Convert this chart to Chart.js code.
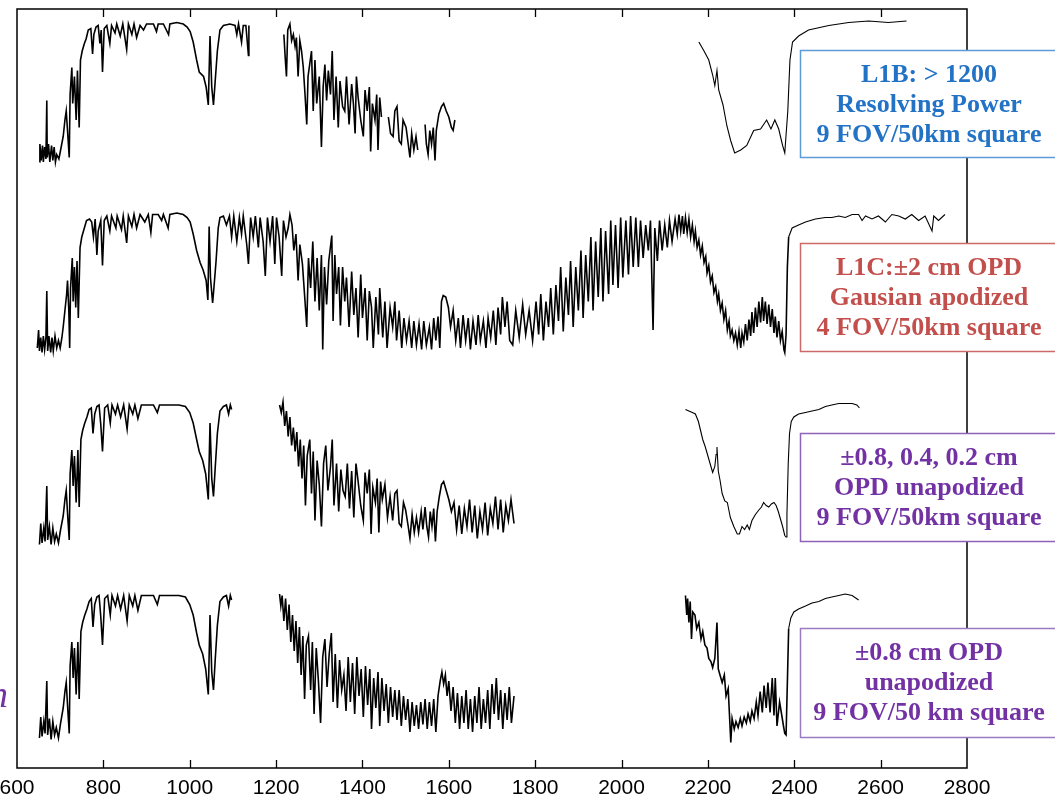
<!DOCTYPE html>
<html>
<head>
<meta charset="utf-8">
<script src="https://cdn.jsdelivr.net/npm/chart.js@4"></script>
<style>
  body { margin: 0; background: #fff; }
  #wrap { width: 1055px; height: 799px; position: relative; }
</style>
</head>
<body>
<div id="wrap"><canvas id="spectra"></canvas></div>
<script>
// wavenumber (cm-1) ticks
const xTicks = [600, 800, 1000, 1200, 1400, 1600, 1800, 2000, 2200, 2400, 2600, 2800];

// brightness temperature (K), [wavenumber, value]; null = gap
const l1b = [
  [652,197],[653,209],[656,198],[659,208],[661,197],[664,207],[667,199],[669,238],[670,200],[673,209],
  [676,197],[680,208],[683,198],[686,207],[689,197],[692,202],[697,199],[701,205],[707,214],[711,225],
  [714,231],[717,218],[721,200],[723,242],[727,260],[729,236],[733,254],[737,225],[740,258],[744,220],
  [747,265],[751,271],[756,276],[760,279],[765,285],[771,286],[775,269],[778,282],[783,287],[788,288],
  [792,276],[795,285],[798,257],[802,286],[808,288],[815,276],[819,288],[827,283],[831,289],[839,281],
  [845,289],[854,272],[858,289],[866,282],[871,289],[877,280],[885,288],[893,285],[900,289],[916,289],
  [923,284],[927,289],[939,289],[951,282],[954,289],[970,290],[985,289],[994,287],[1001,284],[1008,277],
  [1016,265],[1022,257],[1032,254],[1038,247],[1043,235],[1047,281],[1051,247],[1055,235],[1059,251],[1064,271],
  [1070,285],[1078,288],[1093,289],[1105,288],[1109,282],[1113,289],[1120,277],[1124,288],[1130,288],[1136,268],
  [1137,288],[1180,null],
  [1218,282],[1221,267],[1224,254],[1227,285],[1232,289],[1236,278],[1240,282],[1244,274],[1247,280],[1251,254],
  [1255,278],[1259,271],[1263,260],[1267,242],[1271,222],[1274,254],[1282,271],[1286,231],[1290,265],[1294,236],
  [1300,254],[1305,207],[1309,247],[1313,262],[1317,238],[1321,258],[1326,242],[1330,271],[1334,225],[1339,254],
  [1344,220],[1348,251],[1354,234],[1359,231],[1363,254],[1369,222],[1375,249],[1379,236],[1383,216],[1386,254],
  [1390,240],[1396,225],[1402,214],[1406,245],[1411,231],[1416,247],[1419,204],[1423,236],[1429,225],[1433,242],
  [1436,205],[1440,240],[1444,227],[1452,null],[1460,227],[1465,216],[1471,214],[1475,231],[1480,234],[1485,211],
  [1490,209],[1494,225],[1501,220],[1506,209],[1510,200],[1514,216],[1519,205],[1524,214],[1528,205],[1536,null],
  [1545,222],[1548,209],[1552,202],[1556,218],[1560,209],[1564,220],[1568,198],[1571,218],[1577,229],[1583,234],
  [1588,236],[1594,231],[1600,227],[1606,220],[1610,218],[1614,225],[1900,null],
  [2179,277],[2191,271],[2202,265],[2211,255],[2216,248],[2221,258],[2225,245],[2235,235],[2244,221],[2253,211],
  [2262,203],[2276,205],[2290,208],[2306,218],[2322,219],[2336,225],[2346,219],[2355,225],[2364,219],[2373,208],
  [2378,203],[2385,231],[2390,265],[2396,277],[2410,281],[2433,285],[2480,288],[2526,290],[2572,291],[2618,290],
  [2660,291]
];

const l1c = [
  [647,200],[650,212],[652,198],[655,207],[658,197],[661,208],[664,199],[667,207],[669,238],[671,198],
  [674,208],[678,197],[681,207],[684,198],[688,208],[692,200],[696,205],[700,200],[704,207],[707,214],
  [711,225],[715,236],[717,245],[720,225],[722,200],[724,240],[728,260],[730,231],[733,254],[736,227],
  [739,258],[742,220],[746,267],[750,274],[754,278],[758,282],[761,285],[768,286],[773,284],[777,274],
  [781,286],[785,262],[788,278],[794,285],[798,255],[802,285],[808,288],[815,278],[819,288],[829,280],
  [832,288],[842,279],[846,288],[854,270],[858,288],[866,281],[871,289],[877,280],[885,289],[896,284],
  [904,289],[910,277],[914,289],[927,289],[935,285],[939,289],[950,280],[954,289],[970,290],[985,289],
  [994,287],[1001,284],[1008,276],[1016,265],[1024,257],[1031,252],[1038,245],[1042,232],[1045,281],[1048,247],
  [1053,230],[1056,240],[1061,258],[1066,280],[1070,287],[1078,288],[1085,282],[1092,288],[1097,274],[1102,288],
  [1109,271],[1115,287],[1120,276],[1124,288],[1132,269],[1136,256],[1141,287],[1147,274],[1152,288],[1159,267],
  [1163,287],[1170,271],[1175,248],[1180,287],[1186,271],[1192,288],[1197,256],[1201,287],[1207,274],[1213,248],
  [1217,285],[1223,274],[1228,280],[1232,289],[1237,282],[1241,265],[1246,276],[1251,245],[1255,269],[1261,256],
  [1267,231],[1271,214],[1275,260],[1280,240],[1285,271],[1290,231],[1295,260],[1300,225],[1305,262],[1308,199],
  [1312,254],[1317,229],[1322,258],[1329,275],[1332,218],[1336,262],[1340,236],[1345,254],[1349,215],[1354,254],
  [1359,231],[1363,247],[1369,214],[1375,251],[1380,222],[1385,240],[1390,207],[1396,249],[1400,220],[1406,240],
  [1411,205],[1416,238],[1421,227],[1425,200],[1431,234],[1437,209],[1440,240],[1447,207],[1452,231],[1457,200],
  [1464,227],[1470,214],[1475,231],[1479,205],[1485,225],[1491,200],[1496,220],[1502,205],[1508,218],[1514,200],
  [1519,218],[1525,202],[1531,216],[1537,199],[1542,218],[1548,202],[1555,214],[1560,199],[1565,220],[1570,205],
  [1575,221],[1579,200],[1583,231],[1587,235],[1593,234],[1599,227],[1604,214],[1610,225],[1616,205],[1622,220],
  [1627,200],[1633,222],[1639,205],[1645,220],[1650,199],[1656,218],[1663,202],[1668,222],[1673,205],[1680,218],
  [1686,200],[1691,220],[1697,207],[1703,225],[1709,202],[1714,227],[1720,209],[1724,234],[1730,214],[1735,231],
  [1741,205],[1748,202],[1755,225],[1763,207],[1771,229],[1778,209],[1786,225],[1794,205],[1802,231],[1808,209],
  [1813,236],[1819,205],[1825,231],[1831,214],[1836,240],[1842,209],[1848,242],[1854,218],[1859,254],[1865,211],
  [1871,247],[1877,222],[1882,258],[1888,214],[1894,254],[1900,225],[1906,265],[1911,220],[1917,262],[1923,231],
  [1929,274],[1934,225],[1940,271],[1946,234],[1952,280],[1957,231],[1963,278],[1970,236],[1975,285],[1980,242],
  [1986,282],[1992,240],[1998,287],[2003,247],[2010,285],[2016,249],[2021,288],[2027,254],[2033,287],[2039,254],
  [2044,285],[2050,260],[2056,282],[2062,265],[2067,285],[2073,212],[2077,280],[2083,258],[2088,285],[2094,265],
  [2100,282],[2106,267],[2111,285],[2117,271],[2124,286],[2129,276],[2133,289],[2137,278],[2141,288],[2144,276],
  [2148,287],[2152,277],[2156,286],[2160,274],[2164,282],[2168,271],[2171,278],[2175,267],[2179,272],[2183,262],
  [2187,268],[2191,257],[2195,261],[2198,250],[2202,255],[2206,244],[2210,248],[2214,237],[2218,241],[2222,231],
  [2225,236],[2229,225],[2233,230],[2237,219],[2241,225],[2245,212],[2249,218],[2252,208],[2256,212],[2260,205],
  [2264,210],[2268,202],[2272,211],[2276,200],[2279,210],[2283,204],[2287,216],[2291,205],[2295,219],[2299,208],
  [2302,224],[2306,210],[2310,227],[2314,214],[2318,231],[2322,217],[2326,234],[2329,218],[2333,231],[2337,216],
  [2341,229],[2345,214],[2349,226],[2353,210],[2356,221],[2360,207],[2364,218],[2368,205],[2372,211],[2376,199],
  [2378,197],[2381,209],[2384,254],[2387,274],[2395,280],[2410,282],[2426,284],[2449,286],[2472,287],[2487,287],
  [2503,288],[2518,287],[2534,289],[2549,289],[2557,285],[2565,288],[2580,286],[2595,288],[2611,284],[2626,289],
  [2642,288],[2657,286],[2672,289],[2688,285],[2703,288],[2719,278],[2723,288],[2734,285],[2749,289]
];

const unapod3 = [
  [652,196],[655,210],[658,197],[662,207],[665,198],[669,235],[671,199],[675,208],[679,196],[683,207],
  [687,198],[691,203],[696,197],[701,206],[707,215],[711,226],[714,232],[717,217],[721,199],[723,243],
  [727,259],[730,235],[733,255],[737,224],[741,259],[744,221],[748,266],[752,272],[757,277],[762,281],
  [767,286],[772,287],[776,270],[780,283],[785,288],[790,289],[794,276],[798,258],[803,287],[810,289],
  [816,277],[820,289],[828,283],[833,289],[840,281],[847,289],[855,273],[860,289],[868,283],[873,289],
  [880,280],[888,289],[900,289],[916,289],[925,284],[930,289],[945,289],[960,289],[975,289],[990,288],
  [1000,284],[1008,277],[1016,266],[1022,258],[1030,252],[1037,243],[1043,226],[1047,277],[1051,240],[1055,228],
  [1059,247],[1064,270],[1070,285],[1078,288],[1085,289],[1090,283],[1094,289],[1097,286],[1150,null],
  [1208,289],[1212,284],[1216,291],[1220,275],[1224,285],[1228,268],[1232,281],[1236,262],[1240,274],[1244,258],
  [1248,271],[1252,248],[1256,266],[1260,240],[1264,262],[1268,222],[1272,255],[1278,266],[1282,230],[1286,258],
  [1290,212],[1295,252],[1300,236],[1305,208],[1310,250],[1315,262],[1320,232],[1326,248],[1330,266],[1334,222],
  [1340,250],[1345,218],[1350,246],[1355,232],[1360,228],[1365,250],[1370,220],[1375,245],[1380,214],[1385,250],
  [1390,238],[1396,222],[1402,212],[1406,244],[1411,230],[1416,246],[1420,203],[1424,234],[1430,224],[1434,240],
  [1438,204],[1442,238],[1446,226],[1452,236],[1458,214],[1464,228],[1470,212],[1475,230],[1480,232],[1485,210],
  [1490,208],[1495,224],[1500,219],[1506,208],[1510,200],[1515,216],[1520,204],[1525,214],[1530,204],[1536,218],
  [1540,206],[1545,221],[1549,208],[1553,201],[1557,218],[1561,208],[1565,220],[1569,198],[1573,218],[1578,228],
  [1583,236],[1588,238],[1594,232],[1600,226],[1606,218],[1612,224],[1618,206],[1624,222],[1630,203],[1636,220],
  [1642,208],[1648,226],[1654,204],[1660,222],[1666,200],[1672,218],[1678,206],[1684,224],[1690,202],[1696,220],
  [1702,210],[1708,228],[1714,206],[1720,226],[1726,204],[1732,222],[1738,212],[1744,226],[1751,210],[1950,null],
  [2148,286],[2156,285],[2164,284],[2171,283],[2178,278],[2183,272],[2188,266],[2194,261],[2201,254],[2206,249],
  [2211,244],[2216,248],[2219,256],[2221,261],[2224,245],[2228,239],[2233,230],[2239,225],[2245,224],[2252,214],
  [2260,208],[2268,203],[2273,203],[2279,208],[2285,206],[2291,209],[2296,206],[2302,212],[2310,216],[2318,219],
  [2324,221],[2329,224],[2335,222],[2341,221],[2347,223],[2353,224],[2358,222],[2363,218],[2368,213],[2373,208],
  [2378,202],[2381,201],[2383,216],[2386,250],[2389,270],[2393,278],[2399,281],[2410,283],[2426,284],[2441,285],
  [2457,286],[2472,288],[2487,289],[2503,290],[2518,290],[2534,290],[2545,289],[2551,287]
];

const unapod4 = [
  [652,194],[655,208],[658,195],[662,205],[665,197],[669,232],[671,196],[675,207],[679,193],[683,205],
  [687,196],[691,201],[696,194],[701,204],[707,214],[711,225],[714,231],[717,216],[721,197],[723,242],
  [727,258],[730,234],[733,254],[737,223],[741,258],[744,220],[748,265],[752,271],[757,276],[762,280],
  [767,285],[772,287],[776,268],[780,283],[785,288],[790,289],[794,275],[798,256],[803,287],[810,289],
  [816,276],[820,289],[828,282],[833,289],[840,280],[847,289],[855,272],[860,289],[868,282],[873,289],
  [880,279],[888,289],[900,289],[916,289],[925,283],[930,289],[945,289],[960,289],[975,289],[990,288],
  [1000,283],[1008,276],[1016,264],[1022,256],[1030,250],[1037,240],[1043,223],[1047,276],[1051,238],[1055,226],
  [1059,246],[1064,269],[1070,285],[1078,288],[1085,289],[1090,282],[1094,289],[1097,286],[1150,null],
  [1208,290],[1211,282],[1214,289],[1218,272],[1222,287],[1226,266],[1230,283],[1234,258],[1238,276],[1242,252],
  [1246,272],[1250,244],[1254,268],[1258,236],[1262,262],[1266,220],[1270,256],[1275,262],[1280,226],[1284,258],
  [1288,210],[1293,254],[1298,232],[1303,204],[1308,248],[1313,260],[1318,228],[1323,250],[1328,264],[1332,218],
  [1337,250],[1342,214],[1347,246],[1352,226],[1357,236],[1362,212],[1367,248],[1372,218],[1377,244],[1382,210],
  [1387,248],[1392,222],[1397,240],[1402,208],[1407,242],[1412,216],[1417,240],[1421,200],[1426,234],[1431,214],
  [1436,238],[1440,202],[1445,234],[1450,212],[1455,230],[1460,204],[1465,228],[1470,208],[1475,226],[1480,206],
  [1485,226],[1490,202],[1495,222],[1500,206],[1505,220],[1510,198],[1515,218],[1520,202],[1525,216],[1530,200],
  [1535,218],[1540,203],[1545,220],[1550,200],[1555,218],[1560,202],[1565,220],[1570,198],[1575,222],[1580,232],
  [1584,238],[1588,230],[1592,236],[1596,222],[1600,232],[1605,212],[1610,228],[1615,204],[1620,224],[1625,200],
  [1630,222],[1635,204],[1640,226],[1645,200],[1650,220],[1655,198],[1660,222],[1665,204],[1670,228],[1675,200],
  [1680,220],[1685,204],[1690,226],[1695,200],[1700,230],[1705,210],[1710,234],[1715,206],[1720,226],[1725,200],
  [1730,224],[1735,206],[1740,228],[1745,204],[1751,222],[1950,null],
  [2148,289],[2151,276],[2153,287],[2156,271],[2159,285],[2162,260],[2165,278],[2170,276],[2174,267],[2179,271],
  [2184,260],[2188,265],[2193,256],[2198,254],[2202,247],[2207,245],[2211,241],[2216,247],[2221,271],[2224,240],
  [2228,236],[2233,231],[2238,236],[2242,222],[2247,227],[2250,209],[2253,191],[2256,207],[2261,200],[2265,205],
  [2270,201],[2275,207],[2279,202],[2284,208],[2289,204],[2293,210],[2298,205],[2302,212],[2307,207],[2312,218],
  [2316,209],[2321,225],[2326,211],[2330,229],[2335,214],[2339,231],[2344,211],[2349,234],[2353,209],[2356,234],
  [2360,202],[2366,218],[2370,211],[2375,202],[2378,197],[2381,196],[2384,231],[2387,267],[2392,274],[2399,278],
  [2410,280],[2426,282],[2441,284],[2457,285],[2472,287],[2487,288],[2503,289],[2518,290],[2534,289],[2549,286]
];

const spectra = [l1b, l1c, unapod3, unapod4];

const boxLabels = [
  ['L1B: > 1200', 'Resolving Power', '9 FOV/50km square'],
  ['L1C:\u00B12 cm OPD', 'Gausian apodized', '4 FOV/50km square'],
  ['\u00B10.8, 0.4, 0.2 cm', 'OPD unapodized', '9 FOV/50km square'],
  ['\u00B10.8 cm OPD', 'unapodized', '9 FOV/50 km square']
];

// layout / style
const panelShift = 127;   // vertical offset between stacked spectra (K)
const thinFrom = [2140, 2386, 2140, 2386]; // the smooth parts are drawn with a finer pen
const boxStyle = [
  { top: 50,  bottom: 157, text: '#2272c6', border: '#5b9bd8' },
  { top: 243, bottom: 351, text: '#c24f4c', border: '#cd6a68' },
  { top: 433, bottom: 541, text: '#7332a4', border: '#8d62b8' },
  { top: 628, bottom: 737, text: '#7332a4', border: '#9a7bc2' }
];

const frame = {
  id: 'frame',
  afterDatasetsDraw(chart) {
    const { ctx, chartArea: a, scales } = chart;
    ctx.save();
    ctx.strokeStyle = '#000';
    ctx.lineWidth = 1.5;
    ctx.strokeRect(a.left, a.top, a.right - a.left, a.bottom - a.top);
    ctx.lineWidth = 1.3;
    xTicks.slice(1, -1).forEach(v => {
      const x = Math.round(scales.x.getPixelForValue(v)) + 0.5;
      ctx.beginPath();
      ctx.moveTo(x, a.bottom); ctx.lineTo(x, a.bottom - 8);
      ctx.moveTo(x, a.top); ctx.lineTo(x, a.top + 8);
      ctx.stroke();
    });

    // label boxes on the right
    boxStyle.forEach((b, i) => {
      ctx.fillStyle = '#fff';
      ctx.fillRect(800, b.top, 270, b.bottom - b.top);
      ctx.strokeStyle = b.border;
      ctx.lineWidth = 1.5;
      ctx.strokeRect(800.5, b.top + 0.5, 270, b.bottom - b.top);
      ctx.fillStyle = b.text;
      ctx.font = 'bold 26px "Liberation Serif", "Times New Roman", serif';
      ctx.textAlign = 'center';
      ctx.textBaseline = 'alphabetic';
      const first = b.top + 32;
      boxLabels[i].forEach((t, j) => ctx.fillText(t, 929, first + j * 30));
    });

    // clipped title fragment on the left edge
    ctx.fillStyle = '#7332a4';
    ctx.font = 'italic 38px "Liberation Serif", serif';
    ctx.textAlign = 'right';
    ctx.fillText('n', 8, 707);
    ctx.restore();
  }
};

new Chart(document.getElementById('spectra'), {
  type: 'line',
  data: {
    datasets: spectra.map((s, i) => ({
      data: s.map(([x, t]) => ({ x, y: t === null ? null : t - i * panelShift })),
      borderColor: '#000',
      borderWidth: 1.6,
      segment: { borderWidth: c => (c.p0.parsed.x >= thinFrom[i] ? 1.1 : 1.6) },
      pointRadius: 0,
      tension: 0,
      spanGaps: false,
      fill: false
    }))
  },
  options: {
    responsive: true,
    maintainAspectRatio: false,
    animation: false,
    devicePixelRatio: 1,
    layout: { padding: { left: 17, right: 88, top: 9, bottom: 0 } },
    plugins: { legend: { display: false }, tooltip: { enabled: false } },
    scales: {
      x: {
        type: 'linear',
        min: 600,
        max: 2800,
        afterBuildTicks: s => { s.ticks = xTicks.map(v => ({ value: v })); },
        afterFit: s => { s.height = 31; s.paddingLeft = 0; s.paddingRight = 0; },
        grid: { display: false, drawTicks: false },
        border: { display: false },
        ticks: {
          color: '#000',
          padding: 8,
          maxRotation: 0,
          autoSkip: false,
          callback: v => String(v),
          font: { family: '"Liberation Sans", Arial, sans-serif', size: 21 }
        }
      },
      y: {
        display: false,
        min: -207,
        max: 299
      }
    }
  },
  plugins: [frame]
});
</script>
</body>
</html>
